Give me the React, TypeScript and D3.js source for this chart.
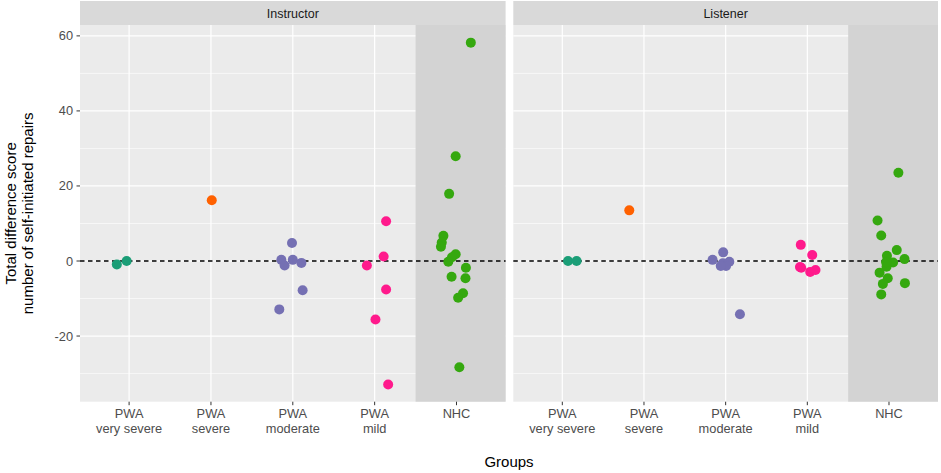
import React, { useRef, useEffect } from 'react';
import * as d3 from 'd3';

// facet panels and categories
const panels = ['Instructor', 'Listener'];
const groups = ['very severe', 'severe', 'moderate', 'mild', 'NHC'];
const groupLines: string[][] = [
  ['PWA', 'very severe'],
  ['PWA', 'severe'],
  ['PWA', 'moderate'],
  ['PWA', 'mild'],
  ['NHC'],
];
const groupColors = ['#1B9E77', '#FF6100', '#7570B3', '#FF1A8C', '#35A80F'];

const yMajor = [-20, 0, 20, 40, 60];
const yMinor = [-30, -10, 10, 30, 50];

// [group index, value, jitter in category units]
const instructorPts: [number, number, number][] = [
  [0, -0.9, -0.15], [0, 0, -0.03],
  [1, 16.2, 0.01],
  [2, 4.8, -0.01], [2, 0.3, -0.14], [2, -1.2, -0.1], [2, 0.3, 0.0], [2, -0.5, 0.105], [2, -7.8, 0.12], [2, -12.9, -0.165],
  [3, -1.2, -0.095], [3, 1.2, 0.11], [3, -7.6, 0.14], [3, -15.6, 0.01], [3, -32.9, 0.165], [3, 10.6, 0.14],
  [4, 58.2, 0.175], [4, 27.9, -0.01], [4, 17.9, -0.09], [4, 6.7, -0.16], [4, 4.9, -0.18], [4, 3.8, -0.19],
  [4, 1.8, -0.01], [4, 1.0, -0.055], [4, -0.2, -0.1], [4, -1.8, 0.115], [4, -4.2, -0.06], [4, -4.6, 0.11],
  [4, -8.6, 0.08], [4, -9.8, 0.02], [4, -28.3, 0.035],
];

const listenerPts: [number, number, number][] = [
  [0, 0, 0.07], [0, 0, 0.175],
  [1, 13.5, -0.18],
  [2, 2.3, -0.03], [2, 0.3, -0.16], [2, -0.6, -0.035], [2, -0.2, 0.045], [2, -1.3, 0.005], [2, -1.3, -0.06], [2, -14.2, 0.175],
  [3, 4.3, -0.08], [3, 1.6, 0.06], [3, -1.8, -0.075], [3, -2.9, 0.035], [3, -2.4, 0.1], [3, -1.6, -0.09],
  [4, 23.5, 0.115], [4, 10.8, -0.14], [4, 6.8, -0.095], [4, 2.9, 0.095], [4, 1.4, -0.025], [4, 0.5, 0.19],
  [4, -0.4, 0.05], [4, -1.5, -0.03], [4, -3.1, -0.115], [4, -4.6, -0.015], [4, -5.9, 0.195], [4, -6.1, -0.075],
  [4, -8.9, -0.095], [4, -0.3, -0.035],
];

const panelData = [instructorPts, listenerPts];

const App: React.FC = () => {
  const ref = useRef<SVGSVGElement | null>(null);

  useEffect(() => {
    if (!ref.current) return;
    const svg = d3.select(ref.current);
    svg.selectAll('*').remove();

    const font = 'Liberation Sans, Arial, sans-serif';
    const top = 25;
    const bottom = 401.7;
    const panelX = [[80, 505.6], [513.3, 938]];

    const y = d3.scaleLinear().domain([-37.5, 62.9]).range([bottom, top]);

    panels.forEach((name, p) => {
      const [x0, x1] = panelX[p];
      const x = d3.scaleLinear().domain([0.4, 5.6]).range([x0, x1]);
      const g = svg.append('g');

      // strip
      g.append('rect').attr('x', x0).attr('y', 1).attr('width', x1 - x0).attr('height', top - 1).attr('fill', '#D9D9D9');
      g.append('text')
        .attr('x', (x0 + x1) / 2).attr('y', 18)
        .attr('text-anchor', 'middle').attr('font-family', font).attr('font-size', 12.5)
        .attr('fill', '#1A1A1A').text(name);

      // panel background
      g.append('rect').attr('x', x0).attr('y', top).attr('width', x1 - x0).attr('height', bottom - top).attr('fill', '#EBEBEB');

      yMinor.forEach(v => {
        g.append('line').attr('x1', x0).attr('x2', x1).attr('y1', y(v)).attr('y2', y(v))
          .attr('stroke', '#fff').attr('stroke-width', 0.6);
      });
      yMajor.forEach(v => {
        g.append('line').attr('x1', x0).attr('x2', x1).attr('y1', y(v)).attr('y2', y(v))
          .attr('stroke', '#fff').attr('stroke-width', 1.2);
      });
      groups.forEach((_, i) => {
        g.append('line').attr('x1', x(i + 1)).attr('x2', x(i + 1)).attr('y1', top).attr('y2', bottom)
          .attr('stroke', '#fff').attr('stroke-width', 1.2);
      });

      // NHC shaded band
      g.append('rect').attr('x', x(4.5)).attr('y', top).attr('width', x(5.6) - x(4.5)).attr('height', bottom - top)
        .attr('fill', '#D3D3D3');

      // zero line
      g.append('line').attr('x1', x0).attr('x2', x1).attr('y1', y(0)).attr('y2', y(0))
        .attr('stroke', '#000').attr('stroke-width', 1.4).attr('stroke-dasharray', '4.5,3.5');

      // points
      g.selectAll('circle.pt').data(panelData[p]).enter().append('circle')
        .attr('cx', d => x(d[0] + 1 + d[2]))
        .attr('cy', d => y(d[1]))
        .attr('r', 5)
        .attr('fill', d => groupColors[d[0]]);

      // x tick marks and labels
      groupLines.forEach((lines, i) => {
        g.append('line').attr('x1', x(i + 1)).attr('x2', x(i + 1)).attr('y1', bottom).attr('y2', bottom + 3.5)
          .attr('stroke', '#333').attr('stroke-width', 1);
        lines.forEach((t, k) => {
          g.append('text').attr('x', x(i + 1)).attr('y', 418 + k * 15)
            .attr('text-anchor', 'middle').attr('font-family', font).attr('font-size', 12.8)
            .attr('fill', '#4D4D4D').text(t);
        });
      });
    });

    // y axis ticks and labels (left panel only)
    yMajor.forEach(v => {
      svg.append('line').attr('x1', 76.5).attr('x2', 80).attr('y1', y(v)).attr('y2', y(v))
        .attr('stroke', '#333').attr('stroke-width', 1);
      svg.append('text').attr('x', 73).attr('y', y(v) + 4.5)
        .attr('text-anchor', 'end').attr('font-family', font).attr('font-size', 12.8)
        .attr('fill', '#4D4D4D').text(v);
    });

    // axis titles
    const cy = (top + bottom) / 2;
    const yt = svg.append('text').attr('transform', `translate(16,${cy}) rotate(-90)`)
      .attr('text-anchor', 'middle').attr('font-family', font).attr('font-size', 15).attr('fill', '#000');
    yt.append('tspan').attr('x', 0).attr('dy', 0).text('Total difference score');
    yt.append('tspan').attr('x', 0).attr('dy', 17).text('number of self-initiated repairs');

    svg.append('text').attr('x', 509).attr('y', 467)
      .attr('text-anchor', 'middle').attr('font-family', font).attr('font-size', 15).attr('fill', '#000')
      .text('Groups');
  }, []);

  return (
    <svg ref={ref} width={941} height={473}
      style={{ position: 'absolute', left: 0, top: 0, background: '#fff' }} />
  );
};

export default App;
